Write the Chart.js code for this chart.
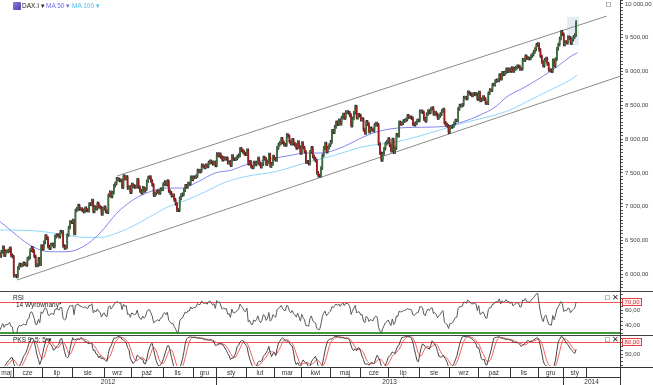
<!DOCTYPE html>
<html><head><meta charset="utf-8">
<script src="https://cdn.jsdelivr.net/npm/chart.js@4.4.1/dist/chart.umd.min.js"></script>
<style>
html,body{margin:0;padding:0;background:#fff;}
#wrap{position:relative;width:653px;height:385px;overflow:hidden;font-family:"Liberation Sans",Arial,sans-serif;background:#fff;}
canvas{position:absolute;left:0;}
.t{position:absolute;font-size:6.5px;line-height:7px;white-space:nowrap;color:#222;}
.ln{position:absolute;background:#444;}
</style></head><body>
<div id="wrap">
  <canvas id="cMain" width="653" height="291" style="top:0"></canvas>
  <canvas id="cRsi" width="653" height="41" style="top:293px"></canvas>
  <canvas id="cSto" width="653" height="50" style="top:335px"></canvas>
  <div class="ln" style="left:0;top:291px;width:653px;height:1px"></div>
  <div class="ln" style="left:0;top:335px;width:653px;height:1px"></div>
  <div class="ln" style="left:620px;top:0;width:1px;height:385px;background:#333"></div>

  <div style="position:absolute;left:13px;top:2px;width:8px;height:8px;background:linear-gradient(135deg,#8a7ee0,#4b3fb0);border-radius:1px"></div>
  <div class="t" style="left:22px;top:2px">DAX.I ▾</div>
  <div class="t" style="left:46px;top:2px;color:#6e6ef0">MA 50 ▾</div>
  <div class="t" style="left:72px;top:2px;color:#4cc0f0">MA 100 ▾</div>
  <div class="t" style="left:606px;top:1px;font-size:8px">□</div>

  <div class="t" style="left:13px;top:294px">RSI</div>
  <div class="t" style="left:16px;top:301px">14 Wyrównany*</div>
  <div class="t" style="left:605px;top:294px;font-size:7.5px">□ ✕</div>

  <div class="t" style="left:13px;top:336px">PKS 9; 5; 5 ▾</div>
  <div class="t" style="left:605px;top:336px;font-size:7.5px">□ ✕</div>
</div>
<script>
// ---------------- DATA ----------------
// hidden warm-up closes (trading days before the first visible candle, only used by RSI / stochastic)
const warmCloses = [6671,6775,6523,6590,6699,6740,6801,6761,6710,6694,6562,6444,6444,6475,6518,6579,6452,6401,6385,6308];
// DAX daily closes, one per trading day, from 18 May 2012 to 15 Jan 2014
const closes = [
 // maj 2012
 6271,6333,6401,6284,6339,6339,6350,6383,6280,6264,
 // cze
 5978,5978,5969,6094,6144,6131,6141,6162,6152,6139,6230,6249,6358,6392,6343,6263,6133,6136,6228,6150,6416,
 // lip
 6378,6475,6566,6535,6410,6387,6438,6444,6413,6558,6577,6579,6558,6630,6630,6419,6390,6405,6582,6689,6774,6772,
 // sie
 6796,6606,6944,6967,7016,6966,6965,6945,6929,6978,6949,6942,7040,7035,7090,6931,6996,6972,7048,7001,6984,6894,6970,
 // wrz
 6990,6932,6919,7167,7214,7152,7207,7310,7343,7412,7403,7389,7390,7290,7451,7413,7440,7276,7290,7216,
 // paź
 7326,7305,7291,7298,7397,7291,7234,7206,7281,7233,7261,7377,7432,7437,7380,7321,7172,7195,7217,7231,7204,7257,7261,
 // lis
 7335,7364,7328,7377,7232,7205,7163,7169,7101,7043,6950,6950,7124,7172,7183,7245,7309,7292,7343,7339,7435,7405,
 // gru
 7436,7435,7455,7535,7518,7530,7614,7596,7581,7614,7597,7653,7672,7655,7636,7655,7612,
 // sty 2013
 7779,7756,7776,7733,7695,7721,7708,7715,7653,7662,7616,7749,7702,7702,7714,7743,7759,7857,7833,7814,7785,7776,
 // lut
 7833,7638,7664,7592,7582,7652,7625,7653,7711,7631,7593,7632,7728,7710,7628,7661,7773,7603,7634,7741,
 // mar
 7708,7691,7870,7919,7944,8004,7952,7918,7914,8058,8043,7962,7932,7990,7933,7912,7871,7955,7879,7795,
 // kwi
 7943,7874,7817,7658,7663,7637,7811,7871,7744,7712,7682,7503,7460,7459,7572,7760,7866,7934,7815,7873,7913,
 // maj
 7960,8122,8101,8182,8249,8220,8278,8229,8318,8363,8313,8399,8401,8388,8352,8200,8305,8390,8480,8317,8361,8348,
 // cze
 8286,8295,8138,8093,8255,8222,8109,8158,8140,8127,8209,8231,8211,7929,7790,7692,7788,7860,7935,7959,
 // lip
 8001,7908,7829,7994,7806,7867,8064,8049,8247,8225,8235,8266,8275,8290,8343,8324,8323,8311,8221,8214,8237,8276,8276,
 // sie
 8410,8410,8398,8299,8271,8368,8416,8393,8445,8460,8373,8391,8366,8312,8344,8370,8416,8436,8242,8215,8195,8103,
 // wrz
 8180,8180,8195,8234,8275,8276,8447,8496,8495,8509,8613,8613,8600,8694,8675,8664,8646,8665,8669,8661,8594,
 // paź
 8689,8574,8588,8622,8592,8534,8533,8679,8725,8723,8804,8806,8860,8870,8867,8948,8894,8979,8960,8985,9033,9005,9033,
 // lis
 9008,9050,9008,9040,9055,9078,9074,9037,9041,9174,9169,9226,9198,9193,9193,9226,9251,9290,9333,9395,9406,
 // gru
 9319,9226,9140,9085,9172,9191,9114,9026,9017,9006,9164,9085,9181,9336,9400,9488,9589,9552,
 // sty 2014
 9400,9435,9428,9506,9497,9421,9473,9510,9540,9733
];
const wickPts = 22; // typical shadow beyond the candle body, in index points

// MA 50 / MA 100: [trading-day index, value]
const ma50 = [[0,6778],[24,6408],[36.5,6334],[48.8,6334],[60.5,6408],[72.9,6611],[85.3,6907],[97,7099],[109.4,7222],[121.8,7276],[132.7,7276],[144.4,7370],[156.8,7498],[169.1,7543],[178.6,7617],[188.1,7666],[200.5,7720],[212.9,7764],[222.4,7794],[231.8,7794],[244.2,7838],[271.9,8090],[289.4,8163],[313.5,8178],[325.9,8193],[337.6,8257],[350,8356],[360.9,8474],[369.6,8627],[381.3,8755],[393.7,8903],[406.1,9070],[415.6,9218],[421,9278]];
const ma100 = [[0,6655],[24,6645],[48.8,6581],[60.5,6547],[72.9,6547],[85.3,6611],[97,6714],[109.4,6852],[121.8,6991],[134.9,7090],[149.5,7220],[164,7360],[180.8,7454],[200.5,7518],[222.4,7646],[244.2,7764],[264.7,7887],[289.4,7961],[313.5,8090],[337.6,8238],[360.9,8356],[371.8,8430],[386.4,8578],[401,8726],[415.6,8874],[421,8948]];
// trend channel
const channelUpper = [[85.3,7454],[442.3,9820]];
const channelLower = [[12.4,5916],[460,8985]];
// highlighted last candles
const hiliteDays = [413.4,422.1], hilitePrice = [9390,9806];

// date strip
const monthLabels = ['maj','cze','lip','sie','wrz','paź','lis','gru','sty','lut','mar','kwi','maj','cze','lip','sie','wrz','paź','lis','gru','sty',''];
const monthStart  = [0,10,31,53,76,96,119,141,158,180,200,220,241,263,283,306,328,349,372,393,411,428];
const yearLabels = ['2012','2013','2014'];
const yearStart  = [0,158,411];
const X_MIN = 0, X_MAX = 452;

// indicator levels
const rsiLevels = [70,30];
const stoLevels = [80];

// ---------------- DERIVED ----------------
const W = warmCloses.length;
const allC = warmCloses.concat(closes);
const allO = allC.map((c,i)=> i===0 ? c : allC[i-1]);
const allH = allC.map((c,i)=> Math.max(c,allO[i]) + wickPts);
const allL = allC.map((c,i)=> Math.min(c,allO[i]) - wickPts);

function rsiCalc(cl,n){
  const out = new Array(cl.length).fill(null); let g=0,l=0;
  for(let i=1;i<=n;i++){const d=cl[i]-cl[i-1]; if(d>0) g+=d; else l-=d;}
  g/=n; l/=n; out[n]=100-100/(1+g/l);
  for(let i=n+1;i<cl.length;i++){const d=cl[i]-cl[i-1]; g=(g*(n-1)+Math.max(d,0))/n; l=(l*(n-1)+Math.max(-d,0))/n; out[i]= l===0?100:100-100/(1+g/l);}
  return out;
}
function stochCalc(h,l,c,k,s,d){
  const n=c.length, num=new Array(n).fill(null), den=new Array(n).fill(null), K=new Array(n).fill(null), D=new Array(n).fill(null);
  for(let i=k-1;i<n;i++){let hh=-Infinity,ll=Infinity; for(let j=i-k+1;j<=i;j++){hh=Math.max(hh,h[j]); ll=Math.min(ll,l[j]);} num[i]=c[i]-ll; den[i]=hh-ll;}
  for(let i=k-1+s-1;i<n;i++){let a=0,b=0; for(let j=i-s+1;j<=i;j++){a+=num[j]; b+=den[j];} K[i]= b?100*a/b:50;}
  for(let i=k+s+d-3;i<n;i++){let a=0; for(let j=i-d+1;j<=i;j++) a+=K[j]; D[i]=a/d;}
  return {K,D};
}
const rsiAll = rsiCalc(allC,14);
const st = stochCalc(allH,allL,allC,9,5,5);
const vis = (arr)=> closes.map((_,i)=>({x:i,y:arr[i+W]}));

function fmt(v){ return Math.round(v).toString().replace(/\B(?=(\d{3})+(?!\d))/g,' ') + ',00'; }
const FONT = {family:'"Liberation Sans", Arial, sans-serif', size:6};

function yAxis(min,max,step,labels){
  return {type:'linear', position:'right', min, max,
    afterFit(s){ s.width = 33; s.paddingTop = 0; s.paddingBottom = 0; },
    border:{display:true,color:'#333',width:1},
    grid:{drawOnChartArea:false, drawTicks:true, tickLength:3, tickColor:'#555'},
    ticks:{stepSize:step, autoSkip:false, includeBounds:false, padding:2, color:'#444', font:FONT,
      callback:(v)=> labels.includes(v) ? fmt(v) : ''}
  };
}
const xAxis = {type:'linear', min:X_MIN, max:X_MAX, display:false, offset:false};
const base = {responsive:false, animation:false, events:[], layout:{padding:0},
  plugins:{legend:{display:false}, tooltip:{enabled:false}}};

const levelPlugin = {id:'levels', beforeDatasetsDraw(chart,args,opts){
  const ctx=chart.ctx, a=chart.chartArea, ys=chart.scales.y;
  (opts.lines||[]).forEach(l=>{ const y=Math.round(ys.getPixelForValue(l.v))+(l.w%2?0.5:0);
    ctx.save(); ctx.strokeStyle=l.c; ctx.lineWidth=l.w; ctx.beginPath(); ctx.moveTo(a.left,y); ctx.lineTo(a.right,y); ctx.stroke(); ctx.restore(); });
}, afterDraw(chart,args,opts){
  const ctx=chart.ctx, a=chart.chartArea, ys=chart.scales.y;
  (opts.boxes||[]).forEach(v=>{ const y=Math.round(ys.getPixelForValue(v));
    ctx.save(); ctx.font='6px "Liberation Sans", Arial, sans-serif'; const t=fmt(v); const w=ctx.measureText(t).width;
    ctx.fillStyle='#fff3f3'; ctx.fillRect(a.right+2.5,y-3.5,w+4,7); ctx.strokeStyle='#e04040'; ctx.lineWidth=1; ctx.strokeRect(a.right+2.5,y-3.5,w+4,7);
    ctx.fillStyle='#c03030'; ctx.textBaseline='middle'; ctx.fillText(t,a.right+4.5,y+0.3); ctx.restore(); });
}};

const hilitePlugin = {id:'hilite', beforeDatasetsDraw(chart){
  const ctx=chart.ctx, xs=chart.scales.x, ys=chart.scales.y;
  const x0=xs.getPixelForValue(hiliteDays[0]), x1=xs.getPixelForValue(hiliteDays[1]);
  const y0=ys.getPixelForValue(hilitePrice[1]), y1=ys.getPixelForValue(hilitePrice[0]);
  ctx.save(); ctx.fillStyle='rgba(205,220,238,0.55)'; ctx.fillRect(x0,y0,x1-x0,y1-y0); ctx.restore();
}};

const stripPlugin = {id:'strip', afterDraw(chart){
  const ctx=chart.ctx, xs=chart.scales.x, a=chart.chartArea;
  const top=a.bottom+1.5, mid=top+10, bot=chart.height, R=a.right;
  const px=(v)=>Math.min(R, Math.max(0, xs.getPixelForValue(v)));
  ctx.save(); ctx.strokeStyle='#333'; ctx.lineWidth=1;
  ctx.beginPath(); ctx.moveTo(0,top); ctx.lineTo(chart.width,top); ctx.moveTo(0,mid); ctx.lineTo(R,mid); ctx.stroke();
  ctx.font='6.5px "Liberation Sans", Arial, sans-serif'; ctx.fillStyle='#333'; ctx.textAlign='center'; ctx.textBaseline='middle';
  const mEdges = monthStart.map(m=>px(m-0.5)).concat([R]);
  for(let i=0;i<monthLabels.length;i++){
    const xa=mEdges[i], xb=mEdges[i+1];
    if(i>0){ const xx=Math.round(xa)+0.5; ctx.beginPath(); ctx.moveTo(xx,top); ctx.lineTo(xx,mid); ctx.stroke(); }
    if(monthLabels[i]) ctx.fillText(monthLabels[i],(xa+xb)/2,(top+mid)/2+0.5);
  }
  const yEdges = yearStart.map(m=>px(m-0.5)).concat([R]);
  for(let i=0;i<yearLabels.length;i++){
    const xa=yEdges[i], xb=yEdges[i+1];
    if(i>0){ const xx=Math.round(xa)+0.5; ctx.beginPath(); ctx.moveTo(xx,mid); ctx.lineTo(xx,bot); ctx.stroke(); }
    ctx.fillText(yearLabels[i],(xa+xb)/2,(mid+bot)/2+0.5);
  }
  ctx.restore();
}};

// ---------------- MAIN ----------------
const upCol='#3e6e3e', dnCol='#9e1c1c';
new Chart(document.getElementById('cMain'), {
  type:'bar',
  data:{datasets:[
    {label:'body', order:0, grouped:false, barThickness:1.1, borderWidth:0,
     data: closes.map((c,i)=>({x:i,y:[allO[i+W],c]})),
     backgroundColor: closes.map((c,i)=> c>=allO[i+W]?upCol:dnCol)},
    {label:'wick', order:1, grouped:false, barThickness:0.7, borderWidth:0, backgroundColor:'#2a2a2a',
     data: closes.map((c,i)=>({x:i,y:[allL[i+W],allH[i+W]]}))},
    {type:'line', label:'MA 50', order:2, data: ma50.map(p=>({x:p[0],y:p[1]})), borderColor:'#8585f0', borderWidth:1, pointRadius:0, cubicInterpolationMode:'monotone'},
    {type:'line', label:'MA 100', order:3, data: ma100.map(p=>({x:p[0],y:p[1]})), borderColor:'#8fd6f7', borderWidth:1, pointRadius:0, cubicInterpolationMode:'monotone'},
    {type:'line', label:'ch1', order:4, data: channelUpper.map(p=>({x:p[0],y:p[1]})), borderColor:'#8c8c8c', borderWidth:1, pointRadius:0},
    {type:'line', label:'ch2', order:4, data: channelLower.map(p=>({x:p[0],y:p[1]})), borderColor:'#8c8c8c', borderWidth:1, pointRadius:0}
  ]},
  options:Object.assign({}, base, {scales:{x:xAxis, y:yAxis(5753,10058,50,[6000,6500,7000,7500,8000,8500,9000,9500,10000])}}),
  plugins:[hilitePlugin]
});

// ---------------- RSI ----------------
new Chart(document.getElementById('cRsi'), {
  type:'line',
  data:{datasets:[{data:vis(rsiAll), borderColor:'#5a5a5a', borderWidth:1, pointRadius:0}]},
  options:Object.assign({}, base, {scales:{x:xAxis, y:yAxis(29.1,82,5,[40,60])},
    plugins:{legend:{display:false},tooltip:{enabled:false},
      levels:{lines:[{v:rsiLevels[0],c:'#f05050',w:1},{v:rsiLevels[1],c:'#3c9a3c',w:2}], boxes:[rsiLevels[0]]}}}),
  plugins:[levelPlugin]
});

// ---------------- STOCHASTIC ----------------
new Chart(document.getElementById('cSto'), {
  type:'line',
  data:{datasets:[
    {data:vis(st.K), borderColor:'#444', borderWidth:1, pointRadius:0, order:0},
    {data:vis(st.D), borderColor:'#f06060', borderWidth:1, pointRadius:0, order:1}
  ]},
  options:Object.assign({}, base, {layout:{padding:{top:1,bottom:19}}, scales:{x:xAxis, y:yAxis(19.2,96.2,10,[50])},
    plugins:{legend:{display:false},tooltip:{enabled:false},
      levels:{lines:[{v:stoLevels[0],c:'#f05050',w:1}], boxes:[stoLevels[0]]}}}),
  plugins:[levelPlugin, stripPlugin]
});
</script>
</body></html>
